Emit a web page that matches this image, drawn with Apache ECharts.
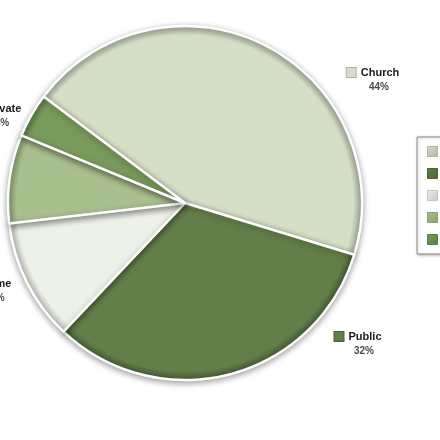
<!DOCTYPE html>
<html>
<head>
<meta charset="utf-8">
<script src="https://cdn.jsdelivr.net/npm/echarts@6/dist/echarts.min.js"></script>
<style>
  html, body { margin: 0; padding: 0; background: #fff; }
  #chart { width: 440px; height: 440px; }
</style>
</head>
<body>
<div id="chart"></div>
<script>
// School type shares (percent)
const categories = ['Church', 'Public', 'Home', 'Charter', 'Private'];
const shares = [44, 32, 11, 8, 4];

// Slice fills, in category order
const fills = ['#d5dec7', '#627f49', '#edf1e8', '#a9bf8e', '#789a5b'];
const rims  = ['#aeb7a2', '#4a6236', '#c4c9bf', '#88a070', '#5f7c47'];

// Where each outside label sits
const labelSpots = [
  [373, 80], [358, 344], [-11, 291], [-40, 178], [-4, 116]
];

const cx = 185, cy = 203, radius = 177;

function sliceFill(i) {
  return {
    type: 'radial', x: cx, y: cy, r: radius, global: true,
    colorStops: [
      { offset: 0, color: fills[i] },
      { offset: 0.95, color: fills[i] },
      { offset: 0.99, color: rims[i] },
      { offset: 1, color: rims[i] }
    ]
  };
}

function swatch(i) {
  return {
    type: 'linear', x: 0, y: 0, x2: 1, y2: 1,
    colorStops: [
      { offset: 0, color: fills[i] },
      { offset: 1, color: rims[i] }
    ]
  };
}

const chart = echarts.init(document.getElementById('chart'), null, { renderer: 'canvas' });

// Per-slice rich styles so each label carries its own colour square
const rich = {
  name: { fontFamily: 'Liberation Sans', fontSize: 11, fontWeight: 'bold', color: '#1a1a1a', padding: [0, 0, 0, 5] },
  pct: { fontFamily: 'Liberation Sans', fontSize: 10, fontWeight: 'bold', color: '#4a4a4a', padding: [0, 0, 0, 12] }
};
categories.forEach((c, i) => {
  rich['icon' + i] = {
    width: 9, height: 9,
    backgroundColor: fills[i],
    borderColor: rims[i], borderWidth: 1
  };
});

const data = categories.map((name, i) => ({
  name: name,
  value: shares[i],
  itemStyle: { color: sliceFill(i) }
}));

chart.setOption({
  animation: false,
  backgroundColor: '#ffffff',
  legend: {
    orient: 'vertical',
    left: 417,
    top: 137,
    padding: [9, 10, 9, 10],
    itemGap: 11,
    itemWidth: 10,
    itemHeight: 10,
    icon: 'rect',
    borderColor: '#8a8a8a',
    borderWidth: 1,
    backgroundColor: '#fff',
    shadowColor: 'rgba(0,0,0,0.25)',
    shadowBlur: 3,
    shadowOffsetX: 1,
    shadowOffsetY: 1,
    textStyle: { fontFamily: 'Liberation Sans', fontSize: 10, fontWeight: 'bold', color: '#222' },
    data: categories.map((name, i) => ({ name: name, itemStyle: { color: swatch(i), borderColor: rims[i], borderWidth: 1 } }))
  },
  series: [{
    type: 'pie',
    center: [cx, cy],
    radius: [0, radius],
    startAngle: 143,
    clockwise: true,
    avoidLabelOverlap: false,
    data: data,
    itemStyle: {
      borderColor: '#ffffff',
      borderWidth: 2.5,
      shadowColor: 'rgba(0,0,0,0.35)',
      shadowBlur: 6,
      shadowOffsetY: 2
    },
    emphasis: { disabled: true },
    labelLine: { show: false },
    label: {
      show: true,
      position: 'outside',
      overflow: 'none',
      formatter: p => '{icon' + p.dataIndex + '|}{name|' + p.name + '}\n{pct|' + p.value + '%}',
      align: 'center',
      lineHeight: 15,
      rich: rich
    },
    labelLayout: function (params) {
      const spot = labelSpots[params.dataIndex];
      return { x: spot[0], y: spot[1], align: 'center', verticalAlign: 'middle' };
    }
  }]
});
</script>
</body>
</html>
